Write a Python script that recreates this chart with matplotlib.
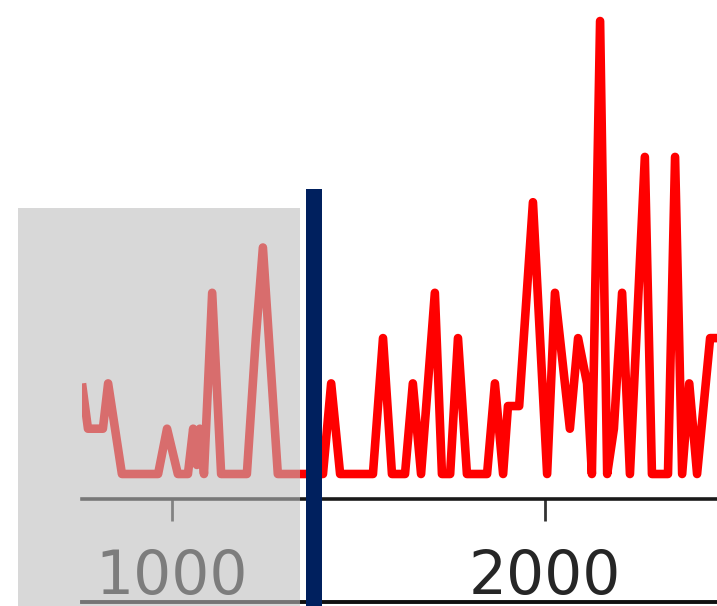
import matplotlib
matplotlib.use("Agg")
import matplotlib.pyplot as plt
from matplotlib.patches import Rectangle
from matplotlib.lines import Line2D

# Event counts along the record (position, count)
positions = [760, 776, 816, 830, 867, 964, 988, 1017, 1044, 1058, 1068, 1076,
             1087, 1109, 1133, 1202, 1226, 1245, 1285, 1406, 1428, 1452, 1540,
             1567, 1591, 1626, 1647, 1669, 1706, 1725, 1747, 1768, 1792, 1846,
             1867, 1889, 1902, 1932, 1969, 2007, 2028, 2068, 2090, 2114, 2127,
             2149, 2168, 2186, 2208, 2229, 2269, 2288, 2331, 2350, 2369, 2388,
             2409, 2444, 2470]
counts = [2, 1, 1, 2, 0, 0, 1, 0, 0, 1, 0.2, 1,
          0, 4, 0, 0, 3, 5, 0, 0, 2, 0, 0,
          3, 0, 0, 2, 0, 4, 0, 0, 3, 0, 0,
          2, 0, 1.5, 1.5, 6, 0, 4, 1, 3, 2, 0,
          10, 0, 1, 4, 0, 7, 0, 0, 7, 0, 2,
          0, 3, 3]
tick_values = [1000, 2000]
tick_labels = ["1000", "2000"]
marker_position = 1382  # vertical marker in data units
shaded_until = 1344     # right edge of the faded (earlier) section

W, H = 717, 606
fig = plt.figure(figsize=(W / 100, H / 100), dpi=100)

left_px, right_px = 82, 717
spine_px = 499
ax = fig.add_axes([left_px / W, (H - spine_px) / H, (right_px - left_px) / W, spine_px / H])

ax.plot(positions, counts, color="#ff0000", lw=6.2, solid_joinstyle="round",
        solid_capstyle="butt")
ax.set_xlim(760, 760 + (right_px - left_px) * 2.681)
ax.set_ylim(-0.552, 10.464)

for s in ("top", "right", "left"):
    ax.spines[s].set_visible(False)
ax.spines["bottom"].set_linewidth(2.6)
ax.spines["bottom"].set_color("#1a1a1a")
ax.set_yticks([])
ax.set_xticks(tick_values)
ax.set_xticklabels(tick_labels)
ax.tick_params(axis="x", length=16, width=2.0, color="#333333", pad=19,
               labelsize=43, labelcolor="#262626")
ax.patch.set_alpha(0)

# lower rule beneath the tick labels
fig.add_artist(Line2D([left_px / W, 1.0], [(H - 601.5) / H] * 2,
                      transform=fig.transFigure, color="#111111", lw=2.8))

# translucent gray shading over the earlier section
x0 = 18
x1 = left_px + (shaded_until - 760) / 2.681
fig.add_artist(Rectangle((x0 / W, 0), (x1 - x0) / W, (H - 208) / H,
                         transform=fig.transFigure, facecolor="#bdbdbd",
                         edgecolor="none", alpha=0.58, zorder=10))

# navy vertical marker
mx = left_px + (marker_position - 760) / 2.681
fig.add_artist(Rectangle(((mx - 8) / W, 0), 16 / W, (H - 189) / H,
                         transform=fig.transFigure, facecolor="#00205e",
                         edgecolor="none", zorder=11))

fig.savefig("out.png", dpi=100)
